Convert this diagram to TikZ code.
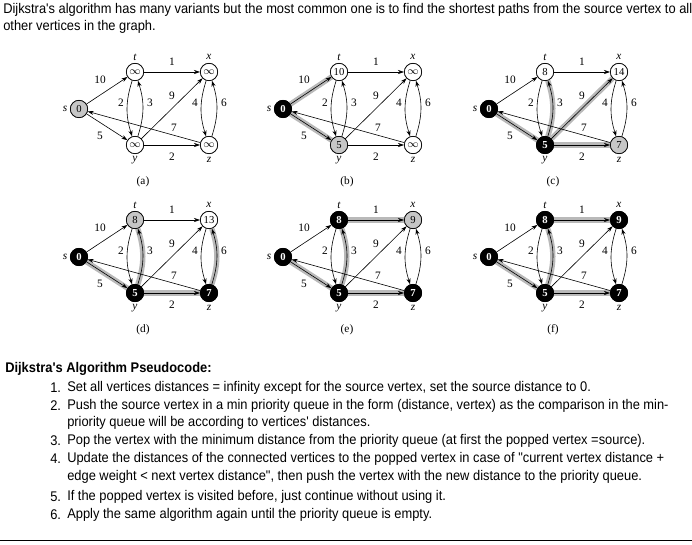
\documentclass[tikz,border=0pt]{standalone}
\usepackage{fontspec}
\setmainfont{Liberation Serif}
\newfontfamily\arl[FakeStretch=0.92]{Liberation Sans}
\usetikzlibrary{arrows.meta}
\begin{document}
\begin{tikzpicture}[x=0.75pt,y=-0.75pt,
  v/.style={circle,draw=black,line width=0.5pt,minimum size=13pt,inner sep=0pt,font=\fontsize{8}{8}\selectfont},
  vw/.style={v,fill=white},
  vg/.style={v,fill=gray!45},
  vb/.style={v,fill=black,text=white,font=\fontsize{8}{8}\selectfont\bfseries},
  ed/.style={-{Stealth[length=4.5pt,width=3pt]},line width=0.45pt},
  hl/.style={line width=4pt,draw=gray!55},
  e0/.style={},
  eb/.style={bend right=18},
  wt/.style={font=\fontsize{8.5}{8.5}\selectfont},
  lb/.style={font=\fontsize{8.5}{8.5}\selectfont\itshape},
  tx/.style={font=\arl\fontsize{10.5}{12}\selectfont,anchor=west,inner sep=0pt}]
\fill[white] (0,0) rectangle (692,545);
\useasboundingbox (0,0) rectangle (692,545);
\node[tx,anchor=north west] (h1) at (3,3) {Dijkstra's algorithm has many variants but the most common one is to find the shortest paths from the source vertex to all};
\node[tx,anchor=north west] (h2) at (3,20) {other vertices in the graph.};
\foreach \p/\dx/\dy/\cap/\ss/\sv/\ts/\tv/\xs/\xv/\ys/\yv/\zs/\zv/\hl in {
 a/0/0/(a)/vg/0/vw/$\infty$/vw/$\infty$/vw/$\infty$/vw/$\infty$/{},
 b/204/0/(b)/vb/0/vw/10/vw/$\infty$/vg/5/vw/$\infty$/{s/t/e0,s/y/e0},
 c/410/0/(c)/vb/0/vw/8/vw/14/vb/5/vg/7/{s/y/e0,y/t/eb,y/x/e0,y/z/e0},
 d/0/148/(d)/vb/0/vg/8/vw/13/vb/5/vb/7/{s/y/e0,y/t/eb,y/z/e0,z/x/eb},
 e/204/148/(e)/vb/0/vb/8/vg/9/vb/5/vb/7/{s/y/e0,y/t/eb,t/x/e0,y/z/e0},
 f/410/148/(f)/vb/0/vb/8/vb/9/vb/5/vb/7/{s/y/e0,y/t/eb,t/x/e0,y/z/e0}}{
 \begin{scope}[shift={(\dx,\dy)}]
  \node[\ss] (\p s) at (79,109) {\sv};
  \node[\ts] (\p t) at (135,72) {\tv};
  \node[\xs] (\p x) at (209,72) {\xv};
  \node[\ys] (\p y) at (135,145) {\yv};
  \node[\zs] (\p z) at (209,145) {\zv};
  \foreach \a/\b/\o in \hl {\draw[hl,\o] (\p\a) to (\p\b);}
  \draw[ed] (\p s) -- (\p t);
  \draw[ed] (\p s) -- (\p y);
  \draw[ed] (\p t) -- (\p x);
  \draw[ed] (\p t) to[bend right=18] (\p y);
  \draw[ed] (\p y) to[bend right=18] (\p t);
  \draw[ed] (\p y) -- (\p x);
  \draw[ed] (\p x) to[bend right=18] (\p z);
  \draw[ed] (\p z) to[bend right=18] (\p x);
  \draw[ed] (\p z) -- (\p s);
  \draw[ed] (\p y) -- (\p z);
  \node[\ss] at (\p s) {\sv};
  \node[\ts] at (\p t) {\tv};
  \node[\xs] at (\p x) {\xv};
  \node[\ys] at (\p y) {\yv};
  \node[\zs] at (\p z) {\zv};
  \node[lb] (\p ls) at (65,109) {s};
  \node[lb] (\p lt) at (135,57) {t};
  \node[lb] (\p lx) at (209,57) {x};
  \node[lb] (\p ly) at (135,160) {y};
  \node[lb] (\p lz) at (209,160) {z};
  \node[wt] (\p w1) at (100,80) {10};
  \node[wt] (\p w2) at (172,62) {1};
  \node[wt] (\p w3) at (121,103) {2};
  \node[wt] (\p w4) at (150,103) {3};
  \node[wt] (\p w5) at (172,96) {9};
  \node[wt] (\p w6) at (195,103) {4};
  \node[wt] (\p w7) at (224,103) {6};
  \node[wt] (\p w8) at (174,128) {7};
  \node[wt] (\p w9) at (100,136) {5};
  \node[wt] (\p w10) at (172,157) {2};
  \node[font=\fontsize{8.5}{8.5}\selectfont] (\p cap) at (143,182) {\cap};
 \end{scope}}
\node[tx,font=\arl\fontsize{10.5}{12}\selectfont\bfseries] (pt) at (5,369) {Dijkstra's Algorithm Pseudocode:};
\foreach \n/\yy/\t in {
 1./388/{Set all vertices distances = infinity except for the source vertex, set the source distance to 0.},
 2./406/{Push the source vertex in a min priority queue in the form (distance, vertex) as the comparison in the min-},
 /423/{priority queue will be according to vertices' distances.},
 3./441/{Pop the vertex with the minimum distance from the priority queue (at first the popped vertex =source).},
 4./459/{Update the distances of the connected vertices to the popped vertex in case of "current vertex distance +},
 /477/{edge weight < next vertex distance", then push the vertex with the new distance to the priority queue.},
 5./497/{If the popped vertex is visited before, just continue without using it.},
 6./515/{Apply the same algorithm again until the priority queue is empty.}}{
 \node[tx] at (50,\yy) {\n};
 \node[tx] at (67,\yy) {\t};}
\draw[line width=0.6pt] (0,540) -- (692,540);
\end{tikzpicture}
\end{document}
